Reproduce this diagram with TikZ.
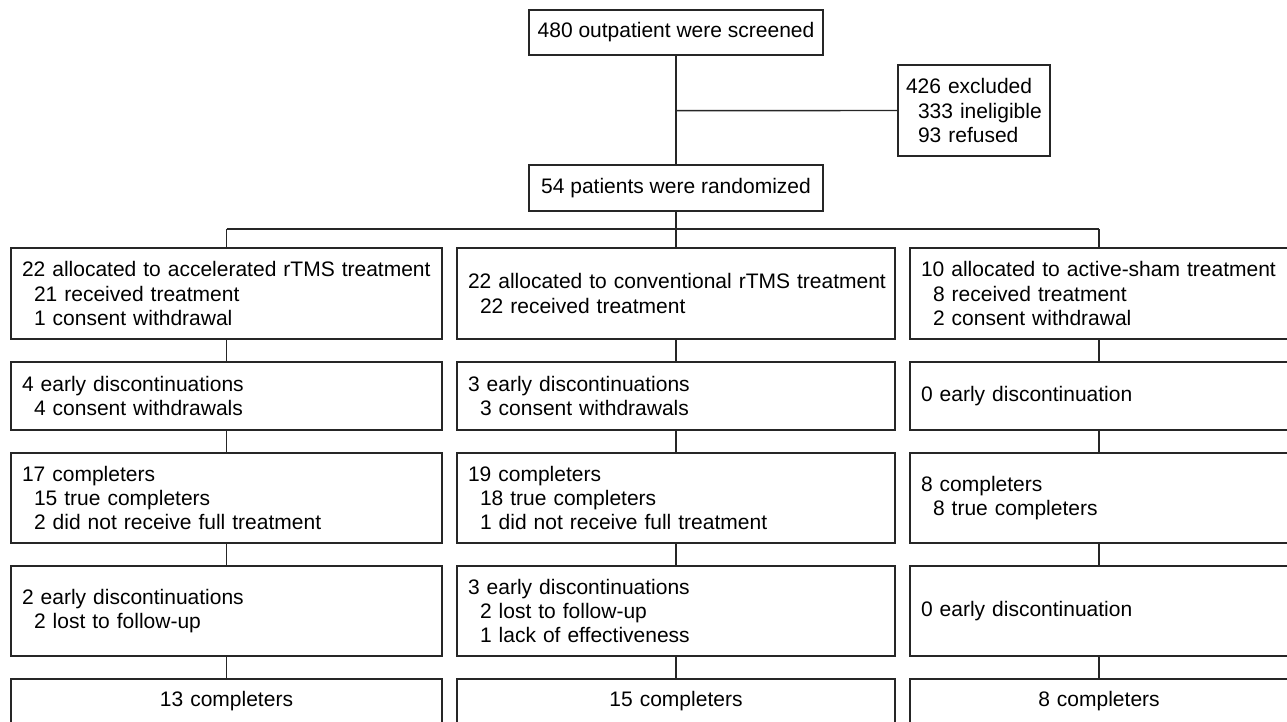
\documentclass[tikz,border=0pt]{standalone}
\usepackage{fontspec}
\setmainfont{Liberation Sans}
\begin{document}
\begin{tikzpicture}[x=1pt,y=-1pt,line width=1.4pt,black!85,
  every node/.style={font=\fontsize{21pt}{24.2pt}\selectfont,text=black,inner ysep=0pt},
  cbox/.style={draw,minimum width=294pt,minimum height=#1,inner xsep=7pt,align=center},
  lbox/.style args={#1/#2}{draw,text width=#1,minimum height=#2,inner xsep=11pt,align=left},
  ebox/.style args={#1/#2}{draw,text width=#1,minimum height=#2,inner xsep=11pt,align=center}]
\useasboundingbox[fill=white] (0,0) rectangle (1287,722);
% top
\node[cbox=45pt] (top) at (676,32.5) {480 outpatient were screened};
\node[draw,text width=136pt,inner xsep=8pt,minimum height=91pt,align=left] (excl) at (974,110.5)
  {426 excluded\\\hspace*{12pt}333 ineligible\\\hspace*{12pt}93 refused};
\node[cbox=46pt] (rand) at (676,188) {54 patients were randomized};
% row 1
\node[lbox=409pt/91pt] (a1) at (226.5,293.5) {\mbox{22 allocated to accelerated rTMS treatment}\\\hspace*{12pt}21 received treatment\\\hspace*{12pt}1 consent withdrawal};
\node[lbox=416pt/91pt] (b1) at (676,293.5) {\mbox{22 allocated to conventional rTMS treatment}\\\hspace*{12pt}22 received treatment};
\node[lbox=356pt/91pt] (c1) at (1099,293.5) {\mbox{10 allocated to active-sham treatment}\\\hspace*{12pt}8 received treatment\\\hspace*{12pt}2 consent withdrawal};
% row 2
\node[lbox=409pt/68pt] (a2) at (226.5,396) {4 early discontinuations\\\hspace*{12pt}4 consent withdrawals};
\node[lbox=416pt/68pt] (b2) at (676,396) {3 early discontinuations\\\hspace*{12pt}3 consent withdrawals};
\node[lbox=356pt/68pt] (c2) at (1099,396) {0 early discontinuation};
% row 3
\node[lbox=409pt/90pt] (a3) at (226.5,498) {17 completers\\\hspace*{12pt}15 true completers\\\hspace*{12pt}2 did not receive full treatment};
\node[lbox=416pt/90pt] (b3) at (676,498) {19 completers\\\hspace*{12pt}18 true completers\\\hspace*{12pt}1 did not receive full treatment};
\node[lbox=356pt/90pt] (c3) at (1099,498) {8 completers\\\hspace*{12pt}8 true completers};
% row 4
\node[lbox=409pt/90pt] (a4) at (226.5,611) {2 early discontinuations\\\hspace*{12pt}2 lost to follow-up};
\node[lbox=416pt/90pt] (b4) at (676,611) {3 early discontinuations\\\hspace*{12pt}2 lost to follow-up\\\hspace*{12pt}1 lack of effectiveness};
\node[lbox=356pt/90pt] (c4) at (1099,611) {0 early discontinuation};
% row 5
\node[ebox=409pt/44pt] (a5) at (226.5,701) {13 completers};
\node[ebox=416pt/44pt] (b5) at (676,701) {15 completers};
\node[ebox=356pt/44pt] (c5) at (1099,701) {8 completers};
% connectors
\draw (top) -- (rand);
\coordinate (ex) at (676,110.7);
\draw (ex) -- (excl.west);
\coordinate (busL) at (226.5,229);
\coordinate (busM) at (676,229);
\coordinate (busR) at (1099,229);
\draw (rand) -- (busM);
\draw (busL) -- (busR);
\draw (busL) -- (a1);
\draw (busM) -- (b1);
\draw (busR) -- (c1);
\draw (a1) -- (a2); \draw (a2) -- (a3); \draw (a3) -- (a4); \draw (a4) -- (a5);
\draw (b1) -- (b2); \draw (b2) -- (b3); \draw (b3) -- (b4); \draw (b4) -- (b5);
\draw (c1) -- (c2); \draw (c2) -- (c3); \draw (c3) -- (c4); \draw (c4) -- (c5);
\end{tikzpicture}
\end{document}
